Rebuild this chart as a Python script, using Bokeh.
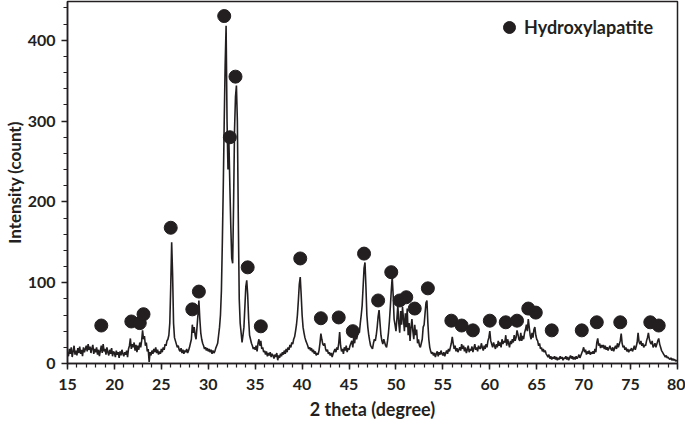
from bokeh.plotting import figure
from bokeh.models import Legend, LegendItem, FixedTicker
from bokeh.embed import file_html
from bokeh.resources import INLINE

# ---- data ----
theta_start = 15.0
theta_step = 0.1

intensity = [
    14, 9, 18, 12, 20, 8, 15, 22, 11, 16,        # 15
    10, 19, 13, 21, 12, 17, 9, 20, 14, 18,       # 16
    22, 15, 24, 17, 21, 13, 19, 23, 12, 18,      # 17
    14, 20, 11, 17, 9, 16, 22, 13, 24, 15,       # 18
    18, 11, 20, 14, 10, 17, 12, 19, 9, 15,       # 19
    13, 8, 16, 11, 14, 7, 15, 10, 17, 12,        # 20
    9, 14, 11, 16, 8, 18, 22, 31, 18, 24,        # 21
    20, 26, 16, 23, 14, 22, 17, 26, 20, 28,      # 22
    41, 30, 34, 22, 26, 15, 18, 2, 14, 10,       # 23
    16, 12, 18, 14, 20, 13, 17, 11, 15, 12,      # 24
    18, 14, 20, 17, 24, 22, 28, 30, 35, 50,      # 25
    95, 150, 110, 50, 32, 28, 24, 20, 22, 17,    # 26
    15, 19, 13, 17, 12, 16, 14, 18, 13, 16,      # 27
    20, 25, 30, 48, 38, 45, 35, 30, 45, 60,      # 28
    78, 55, 38, 30, 25, 22, 18, 20, 16, 19,      # 29
    15, 18, 14, 17, 12, 16, 13, 15, 19, 22,      # 30
    25, 35, 45, 60, 90, 150, 220, 300, 370, 418, # 31
    300, 240, 275, 220, 170, 130, 124, 200, 290, 330,  # 32
    344, 300, 180, 80, 50, 38, 26, 35, 45, 70,   # 33
    95, 103, 85, 55, 35, 30, 25, 22, 18, 20,     # 34
    17, 22, 15, 25, 30, 22, 28, 18, 20, 14,      # 35
    16, 11, 15, 9, 13, 10, 14, 8, 12, 10,        # 36
    6, 11, 8, 13, 4, 10, 7, 12, 9, 14,           # 37
    11, 16, 12, 18, 14, 20, 17, 23, 20, 26,      # 38
    24, 30, 33, 40, 48, 60, 78, 98, 107, 85,     # 39
    60, 45, 38, 32, 28, 25, 22, 18, 20, 16,      # 40
    19, 14, 17, 12, 15, 10, 13, 11, 16, 25,      # 41
    37, 30, 24, 22, 25, 18, 15, 17, 12, 14,      # 42
    10, 13, 8, 12, 15, 18, 14, 20, 17, 25,      # 43
    39, 22, 15, 18, 12, 20, 16, 22, 14, 19,      # 44
    17, 22, 25, 28, 20, 32, 25, 38, 30, 35,      # 45
    42, 38, 50, 60, 72, 95, 118, 125, 95, 60,    # 46
    45, 35, 28, 22, 20, 18, 25, 30, 28, 35,      # 47
    45, 58, 66, 50, 35, 28, 24, 30, 26, 22,      # 48
    20, 28, 38, 52, 70, 90, 107, 85, 55, 48,     # 49
    40, 55, 72, 50, 38, 65, 48, 70, 55, 40,      # 50
    62, 45, 68, 35, 50, 28, 45, 55, 40, 30,      # 51
    48, 35, 42, 25, 30, 22, 20, 25, 30, 45,      # 52
    48, 62, 75, 78, 50, 30, 20, 15, 12, 14,      # 53
    10, 13, 8, 12, 15, 9, 14, 11, 16, 12,        # 54
    10, 14, 9, 13, 16, 12, 18, 15, 20, 25,       # 55
    33, 25, 18, 22, 15, 19, 14, 17, 20, 16,      # 56
    24, 18, 22, 15, 20, 13, 17, 22, 14, 18,      # 57
    16, 21, 14, 19, 24, 17, 20, 15, 22, 19,      # 58
    18, 25, 20, 16, 22, 18, 24, 20, 28, 32,      # 59
    40, 28, 24, 20, 26, 22, 18, 24, 20, 28,      # 60
    22, 26, 20, 30, 24, 28, 26, 35, 22, 30,      # 61
    25, 20, 28, 24, 30, 26, 35, 28, 32, 41,      # 62
    36, 30, 28, 38, 28, 34, 30, 38, 42, 48,      # 63
    40, 55, 45, 35, 30, 38, 32, 42, 45, 35,      # 64
    30, 28, 22, 25, 18, 20, 15, 18, 14, 16,      # 65
    12, 10, 8, 11, 6, 9, 5, 8, 6, 9,             # 66
    5, 8, 4, 7, 5, 9, 6, 8, 4, 7,                # 67
    6, 9, 5, 8, 4, 7, 10, 6, 9, 5,               # 68
    8, 5, 9, 6, 8, 11, 7, 10, 13, 16,            # 69
    20, 14, 17, 11, 15, 12, 16, 11, 14, 12,      # 70
    15, 12, 18, 14, 26, 31, 22, 25, 19, 23,      # 71
    20, 23, 18, 22, 17, 20, 16, 19, 22, 18,      # 72
    16, 20, 15, 19, 22, 18, 25, 20, 24, 28,      # 73
    37, 25, 20, 22, 17, 20, 15, 18, 14, 17,      # 74
    16, 19, 15, 18, 22, 17, 21, 26, 38, 27,      # 75
    24, 28, 22, 25, 20, 23, 22, 28, 32, 38,      # 76
    30, 26, 24, 28, 20, 22, 25, 20, 24, 28,      # 77
    31, 24, 20, 16, 14, 12, 10, 8, 10, 7,        # 78
    8, 6, 5, 7, 4, 6, 4, 5, 3, 4,                # 79
    3,                                           # 80
]
two_theta = [round(theta_start + theta_step * i, 1) for i in range(len(intensity))]

hap_2theta = [18.6, 21.8, 22.7, 23.1, 26.0, 28.3, 29.0, 31.7, 32.3, 32.9, 34.2,
              35.6, 39.8, 42.0, 43.9, 45.4, 46.6, 48.1, 49.5, 50.4, 51.1, 52.0,
              53.4, 55.9, 57.0, 58.2, 60.0, 61.7, 62.9, 64.1, 64.9, 66.6, 69.8,
              71.4, 73.9, 77.1, 78.0]
hap_marker_y = [47, 52, 50, 61, 168, 67, 89, 430, 280, 355, 119,
                46, 130, 56, 57, 40, 136, 78, 113, 78, 82, 68,
                93, 53, 47, 41, 53, 51, 53, 68, 63, 41, 41,
                51, 51, 51, 47]

x_ticks = [15, 20, 25, 30, 35, 40, 45, 50, 55, 60, 65, 70, 75, 80]
x_minor_ticks = list(range(15, 81))
y_ticks = [0, 100, 200, 300, 400]
y_minor_ticks = list(range(0, 441, 20))

FONT = "Lato"
INK = "#231f20"

p = figure(frame_width=610, frame_height=362, x_range=(15, 80), y_range=(0, 448),
           output_backend="svg", toolbar_location=None,
           min_border_left=59, min_border_right=8, min_border_top=1,
           min_border_bottom=58)

p.line(two_theta, intensity, line_color=INK, line_width=1.6)
r = p.scatter(hap_2theta, hap_marker_y, size=13, fill_color=INK, line_color=INK)

legend = Legend(items=[LegendItem(label="Hydroxylapatite", renderers=[r])],
                location=(427, 321), padding=0, margin=0, spacing=0,
                glyph_width=30, glyph_height=30, label_standoff=0,
                border_line_color=None, background_fill_alpha=0,
                label_text_font=FONT, label_text_font_style="bold",
                label_text_font_size="18px", label_text_color=INK)
p.add_layout(legend)

p.xgrid.visible = False
p.ygrid.visible = False
p.outline_line_color = INK
p.outline_line_width = 1.5
p.background_fill_color = "white"
p.border_fill_color = "white"

for ax in (p.xaxis[0], p.yaxis[0]):
    ax.axis_line_color = INK
    ax.axis_line_width = 1.5
    ax.major_tick_line_color = INK
    ax.minor_tick_line_color = INK
    ax.major_tick_line_width = 1.5
    ax.minor_tick_line_width = 1.2
    ax.major_tick_in = 0
    ax.major_tick_out = 6
    ax.minor_tick_in = 0
    ax.minor_tick_out = 4
    ax.major_label_text_font = FONT
    ax.major_label_text_font_style = "bold"
    ax.major_label_text_font_size = "16px"
    ax.major_label_text_color = INK
    ax.axis_label_text_font = FONT
    ax.axis_label_text_font_style = "bold"
    ax.axis_label_text_font_size = "18px"
    ax.axis_label_text_color = INK

p.xaxis.ticker = FixedTicker(ticks=x_ticks, minor_ticks=x_minor_ticks)
p.yaxis.ticker = FixedTicker(ticks=y_ticks, minor_ticks=y_minor_ticks)
p.xaxis.axis_label = "2 theta (degree)"
p.yaxis.axis_label = "Intensity (count)"
p.yaxis.axis_label_text_font_size = "17px"
p.xaxis.major_label_standoff = 9
p.xaxis.axis_label_standoff = 5
p.yaxis.major_label_standoff = 6
p.yaxis.axis_label_standoff = 0

open("out.html", "w").write(file_html(p, INLINE))
